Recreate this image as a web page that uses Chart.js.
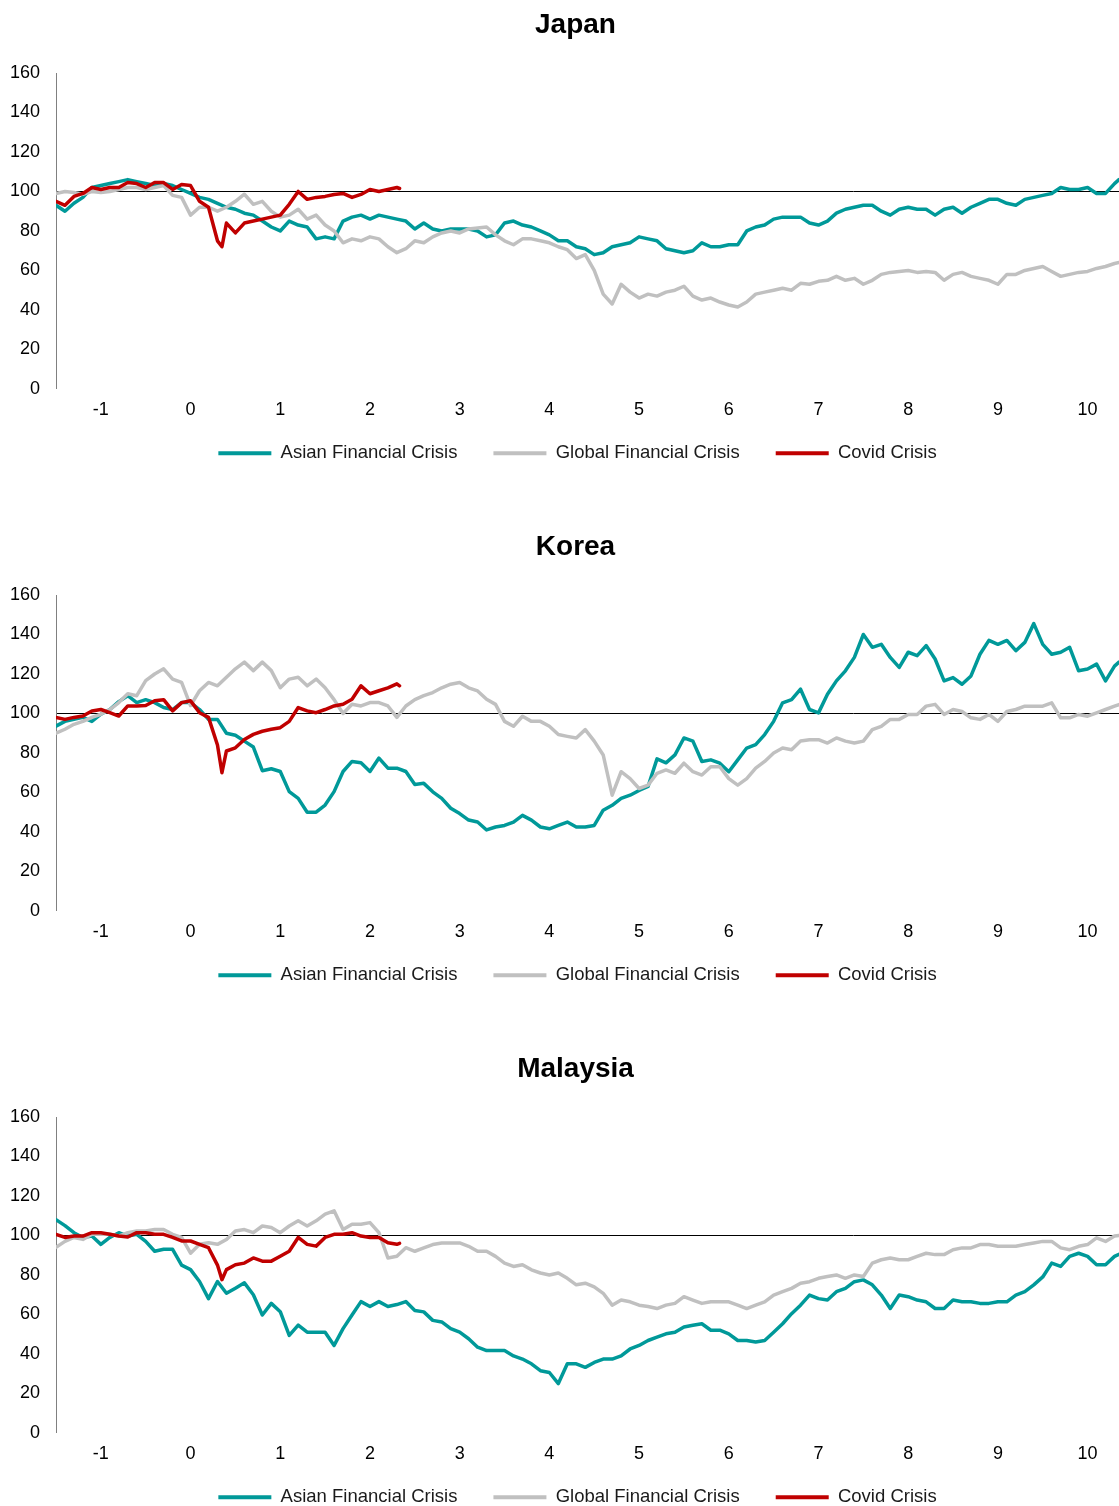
<!DOCTYPE html>
<html>
<head>
<meta charset="utf-8">
<script src="https://cdn.jsdelivr.net/npm/chart.js@4.4.1/dist/chart.umd.min.js"></script>
<style>
  html, body { margin: 0; padding: 0; background: #fff; width: 1119px; height: 1506px; overflow: hidden; }
  .panel { position: absolute; left: 0; width: 1119px; height: 495px; }
</style>
</head>
<body>
<div class="panel" style="top:0px"><canvas id="c0" width="1119" height="495"></canvas></div>
<div class="panel" style="top:522px"><canvas id="c1" width="1119" height="495"></canvas></div>
<div class="panel" style="top:1044px"><canvas id="c2" width="1119" height="495"></canvas></div>
<script>
// ---- categories: years relative to crisis start (0.1-year samples) ----
const years = [];
for (let i = 0; i < 119; i++) years.push(Math.round((-1.5 + 0.1 * i) * 100) / 100);
years.push(10.35);

const covidYears = [-1.5,-1.4,-1.3,-1.2,-1.1,-1.0,-0.9,-0.8,-0.7,-0.6,-0.5,-0.4,-0.3,-0.2,-0.1,0.0,0.1,0.2,0.3,0.35,
  0.4,0.5,0.6,0.7,0.8,0.9,1.0,1.1,1.2,1.3,1.4,1.5,1.6,1.7,1.8,1.9,2.0,2.1,2.2,2.3,2.33];

const xTickLabels = [-1,0,1,2,3,4,5,6,7,8,9,10];
const seriesNames = ['Asian Financial Crisis', 'Global Financial Crisis', 'Covid Crisis'];
const titles = ['Japan', 'Korea', 'Malaysia'];

// ---- Japan ----
const japanAFC = [
  93,90,94,97,102,103,104,105,106,105,
  104,103,104,103,101,99,97,96,94,92,
  91,89,88,85,82,80,85,83,82,76,
  77,76,85,87,88,86,88,87,86,85,
  81,84,81,80,81,81,81,80,77,78,
  84,85,83,82,80,78,75,75,72,71,
  68,69,72,73,74,77,76,75,71,70,
  69,70,74,72,72,73,73,80,82,83,
  86,87,87,87,84,83,85,89,91,92,
  93,93,90,88,91,92,91,91,88,91,
  92,89,92,94,96,96,94,93,96,97,
  98,99,102,101,101,102,99,99,104,106];
const japanGFC = [
  99,100,99.5,98.6,100,99.5,100,101,102,102,
  101,102,103,98,97,88,92,92,90,92,
  95,98.6,93.5,95,90,87,88,91,86,88,
  83,80,74,76,75,77,76,72,69,71,
  75,74,77,79,80,79,81,81.5,82,78,
  75,73,76,76,75,74,72,70.5,66,68,
  60,48,43,53,49,46,48,47,49,50,
  52,47,45,46,44,42.5,41.5,44,48,49,
  50,51,50,53.5,53,54.5,55,57,55,56,
  53,55,58,59,59.5,60,59,59.5,59,55,
  58,59,57,56,55,53,58,58,60,61,
  62,59.5,57,58,59,59.5,61,62,63.5,64];
const japanCovid = [95,93,97.5,99,102,101,102,102,104.5,104,102,104.5,104.5,101,103.5,103,95,92,75,72,
  84,79,84,85,86,87,88,93.5,100,96,97,97.5,98.5,99,97,98.5,101,100,101,102,101.5];

// ---- Korea ----
const koreaAFC = [
  93.6,96,97,98,96,99.6,102,106,109,105.5,
  107,105.5,103,102,105.5,105.5,102,97,97,90,
  89,86,83,71,72,70.6,60.4,57,50,50,
  53.6,60.4,70.6,75.7,75,70.6,77.4,72.3,72.3,70.6,
  64,64.6,60.3,57,52,49.3,46,45,41,42.5,
  43.3,45,48.4,46,42.5,41.6,43.3,45,42.5,42.5,
  43.3,51,53.5,57,58.6,61,63,77,75,79,
  87.6,86,75.7,76.5,74.8,70.5,76.5,82.5,84.2,89.3,
  96,105.4,107,112.3,102,100.3,109.7,116.5,121.6,128.4,
  140,133.5,135,128.4,123.3,131,129.3,134.4,127.6,116.5,
  118.2,114.8,119,130,137,135,137,131.8,136,145.5,
  135,130,131,133.5,121.6,122.5,125,116.5,124,126];
const koreaGFC = [
  90,92,94.5,96,98,99.6,102,105.5,110,109,
  116.6,120,122.6,117.4,115.7,104,111.5,115.7,114,118.3,
  122.6,126,121.7,126,121.7,113,117.4,118.3,114,117.4,
  113,107,100,104.7,103.8,105.5,105.5,103.8,98,103.8,
  107,109,110.6,113,114.8,115.7,113,111.4,107.2,104.6,
  96,93.5,98.6,96,96,93.5,89.3,88.4,87.6,91.8,
  86,79,58.6,70.5,67,62,63.7,69.7,71.4,69.7,
  74.8,70.5,68.8,73,73,67,63.7,67,72.3,75.7,
  80,82.5,81.6,86,86.7,86.7,85,87.6,86,85,
  86,91.8,93.5,97,97,99.5,99.5,103.7,104.6,99.5,
  102,101,97.8,97,99.5,96,101,102,103.7,103.7,
  103.7,105.4,97.8,97.8,99.5,98.6,100.3,102,103.7,104.5];
const koreaCovid = [98,97,98,98.7,101.3,102,100.4,98.7,103.8,103.8,104,106.4,107,101.3,105.5,106.4,100.4,98,84,70,
  81,82.6,86.8,89.4,91,92,92.8,96,103,101.3,100.4,102,103.8,104.7,107.2,114,110,111.5,113,115,114];

// ---- Malaysia ----
const malaysiaAFC = [
  108,105,101.4,99,99.7,95.5,99,101.4,99.7,100.6,
  97,92,93,93,85,82.7,76.7,68,76.7,70.7,
  73.3,76,70,59.7,65.6,61.4,49.4,54.6,51,51,
  51,44.3,52.8,59.7,66.5,64,66.5,64,65,66.5,
  62,61.3,57,56.2,52.8,51,47.7,43.4,41.7,41.7,
  41.7,39,37.4,35,31.5,30.6,25,35,35,33.2,
  35.7,37.4,37.4,39,42.5,44.3,46.8,48.5,50.2,51,
  53.6,54.5,55.3,52,52,50.2,46.8,46.8,46,46.8,
  51,55.3,60.4,64.7,69.8,68,67.3,71.5,73.2,76.6,
  77.5,75,69.8,63,69.8,69,67.3,66.4,63,63,
  67.3,66.4,66.4,65.6,65.6,66.4,66.4,69.8,71.5,75,
  79,86,84.3,89.4,91,89.4,85.2,85.2,89.4,90.5];
const malaysiaGFC = [
  94,97,99,98,100.6,100.6,100.6,99.7,101.4,102.3,
  102.3,103,103,100.6,99,91,95.5,96.3,95.5,98,
  102.3,103,101.4,104.8,104,101.4,104.8,107.4,104.8,107.4,
  110.8,112.5,103,105.7,105.7,106.5,101.4,88.6,89.5,93.8,
  92,93.7,95.4,96.2,96.2,96.2,94.5,92,92,89.4,
  86,84.3,85.2,82.6,81,80,81,78.3,75,75.8,
  74,70.7,64.7,67.3,66.4,64.7,64,63,64.7,65.6,
  69,67.3,65.6,66.4,66.4,66.4,64.7,63,64.7,66.4,
  69.8,71.5,73.2,75.8,76.6,78.3,79.2,80,78.3,80,
  79.2,86,87.7,88.6,87.7,87.7,89.4,91,90.3,90.3,
  92.8,93.7,93.7,95.4,95.4,94.5,94.5,94.5,95.4,96.2,
  97,97,93.7,92.8,94.5,95.4,98.8,97,99.7,100];
const malaysiaCovid = [100.6,99,99.7,99.7,101.4,101.4,100.6,99.7,99.2,101.4,101.4,100.6,100.6,99,97.2,97.2,95.5,93.8,85,77.6,
  82.7,85.2,86,88.6,87,87,89.5,92,99,95.5,94.6,99,100.6,100.6,101.4,99.7,99,99,96.3,95.5,96];

// ---- styling ----
const TEAL = '#009999';
const GREY = '#c0c0c0';
const RED = '#c00000';

Chart.defaults.font.family = "'Liberation Sans', Arial, Helvetica, sans-serif";
Chart.defaults.color = '#000';

function zip(xs, ys) { return xs.map((x, i) => ({ x: x, y: ys[i] })); }

// nudges the title and legend boxes to where the reference places them
const boxNudge = {
  id: 'boxNudge',
  afterLayout(chart) {
    const l = chart.legend;
    if (l) { l.top -= 22.6; l.bottom -= 22.6; l.left -= 10; l.right -= 10; }
    const t = chart.titleBlock;
    if (t) { t.left -= 12; t.right -= 12; }
  }
};

function makeChart(id, title, afc, gfc, covid) {
  const ds = (label, xs, ys, color, order) => ({
    label: label, data: zip(xs, ys), borderColor: color, backgroundColor: color,
    borderWidth: 3.5, pointRadius: 0, tension: 0, order: order,
    borderJoinStyle: 'round', borderCapStyle: 'round'
  });
  new Chart(document.getElementById(id), {
    type: 'line',
    data: {
      datasets: [
        ds(seriesNames[0], years, afc, TEAL, 3),
        ds(seriesNames[1], years, gfc, GREY, 2),
        ds(seriesNames[2], covidYears, covid, RED, 1)
      ]
    },
    plugins: [boxNudge],
    options: {
      responsive: false,
      animation: false,
      layout: { padding: 0 },
      plugins: {
        title: {
          display: true, text: title, fullSize: false, color: '#000',
          font: { size: 28, weight: 'bold' },
          padding: { top: 8, bottom: 31.4 }
        },
        legend: {
          position: 'bottom', fullSize: false,
          labels: {
            boxWidth: 53, boxHeight: 4, padding: 36, color: '#1a1a1a',
            font: { size: 18.5 },
            sort: (a, b) => a.datasetIndex - b.datasetIndex,
            generateLabels: (chart) => Chart.defaults.plugins.legend.labels.generateLabels(chart)
              .map(l => Object.assign(l, { lineWidth: 0 }))
          }
        },
        tooltip: { enabled: false }
      },
      scales: {
        x: {
          type: 'linear', min: -1.5, max: 10.35,
          afterBuildTicks: (s) => { s.ticks = xTickLabels.map(v => ({ value: v })); },
          grid: { display: false, drawTicks: false },
          border: { display: false },
          ticks: { padding: 10, font: { size: 18 }, color: '#000', autoSkip: false, maxRotation: 0 }
        },
        y: {
          min: 0, max: 160,
          afterFit: (s) => { s.width = 56; },
          ticks: { stepSize: 20, padding: 16, font: { size: 18 }, color: '#000' },
          grid: {
            drawTicks: false, lineWidth: 1,
            color: (c) => (c.tick && c.tick.value === 100) ? '#000' : 'rgba(0,0,0,0)'
          },
          border: { display: true, color: '#808080', width: 1 }
        }
      }
    }
  });
}

makeChart('c0', titles[0], japanAFC, japanGFC, japanCovid);
makeChart('c1', titles[1], koreaAFC, koreaGFC, koreaCovid);
makeChart('c2', titles[2], malaysiaAFC, malaysiaGFC, malaysiaCovid);
</script>
</body>
</html>
